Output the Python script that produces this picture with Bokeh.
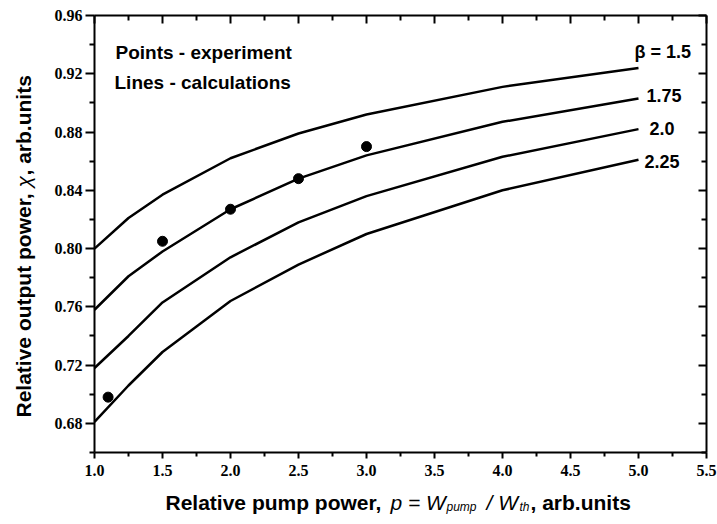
import math
from bokeh.plotting import figure
from bokeh.models import Range1d, LinearAxis, FixedTicker, NumeralTickFormatter, Label
from bokeh.embed import file_html
from bokeh.resources import INLINE

# ---------------- data ----------------
pump = [1.0, 1.25, 1.5, 2.0, 2.5, 3.0, 4.0, 5.0]
chi_beta_150 = [0.800, 0.821, 0.837, 0.862, 0.879, 0.892, 0.911, 0.924]
chi_beta_175 = [0.758, 0.781, 0.798, 0.827, 0.848, 0.864, 0.887, 0.903]
chi_beta_200 = [0.718, 0.740, 0.763, 0.794, 0.818, 0.836, 0.863, 0.882]
chi_beta_225 = [0.681, 0.706, 0.729, 0.764, 0.789, 0.810, 0.840, 0.861]
curve_names = ["β = 1.5", "1.75", "2.0", "2.25"]

exp_pump = [1.1, 1.5, 2.0, 2.5, 3.0]
exp_chi = [0.698, 0.805, 0.827, 0.848, 0.870]

x_major = [1.0, 1.5, 2.0, 2.5, 3.0, 3.5, 4.0, 4.5, 5.0, 5.5]
x_minor = [1.25, 1.75, 2.25, 2.75, 3.25, 3.75, 4.25, 4.75, 5.25]
y_major = [0.68, 0.72, 0.76, 0.80, 0.84, 0.88, 0.92, 0.96]
y_minor = [0.66, 0.70, 0.74, 0.78, 0.82, 0.86, 0.90, 0.94]

# ---------------- layout helpers ----------------
W, H = 717, 524
X0, X1, Y0, Y1 = 1.0, 5.5, 0.66, 0.96
FL, FR, FT, FB = 94, 706, 15, 452   # plot box edges in canvas px


def px2x(px):
    return X0 + (px - FL) * (X1 - X0) / (FR - FL)


def py2y(py):
    return Y1 - (py - FT) * (Y1 - Y0) / (FB - FT)


SANS = "Liberation Sans"
SERIF = "Liberation Serif"

p = figure(width=W, height=H,
           x_range=Range1d(px2x(0), px2x(W)), y_range=Range1d(py2y(H), py2y(0)),
           output_backend="svg", toolbar_location=None,
           min_border_left=0, min_border_right=0, min_border_top=0, min_border_bottom=0)
p.grid.visible = False
p.outline_line_color = None
p.background_fill_color = "white"
p.border_fill_color = "white"


def style_axis(ax, tin, tout, min_in, min_out, labels=True):
    ax.axis_line_width = 2
    ax.axis_line_color = "black"
    ax.major_tick_line_width = 2
    ax.minor_tick_line_width = 2
    ax.major_tick_line_color = "black"
    ax.minor_tick_line_color = "black"
    ax.major_tick_in = tin
    ax.major_tick_out = tout
    ax.minor_tick_in = min_in
    ax.minor_tick_out = min_out
    if labels:
        ax.major_label_text_font = SERIF
        ax.major_label_text_font_style = "bold"
        ax.major_label_text_font_size = "16px"
        ax.major_label_text_color = "black"
    else:
        ax.major_label_text_font_size = "0px"
        ax.major_label_standoff = 0
        ax.major_label_text_color = None
    ax.axis_label = None


xax = p.xaxis[0]
xax.ticker = FixedTicker(ticks=x_major, minor_ticks=x_minor)
xax.formatter = NumeralTickFormatter(format="0.0")
xax.fixed_location = Y0
xax.bounds = (X0, X1)
style_axis(xax, 0, 6, 0, 4)
xax.major_label_standoff = 6

yax = p.yaxis[0]
yax.ticker = FixedTicker(ticks=y_major, minor_ticks=y_minor)
yax.formatter = NumeralTickFormatter(format="0.00")
yax.fixed_location = X0
yax.bounds = (Y0, Y1)
style_axis(yax, 0, 9, 0, 5)
yax.major_label_standoff = 3

top = LinearAxis(ticker=FixedTicker(ticks=x_major, minor_ticks=x_minor),
                 fixed_location=Y1, bounds=(X0, X1))
style_axis(top, 8, 0, 5, 0, labels=False)
p.add_layout(top, "above")

right = LinearAxis(ticker=FixedTicker(ticks=y_major, minor_ticks=y_minor),
                   fixed_location=X1, bounds=(Y0, Y1))
style_axis(right, 8, 0, 5, 0, labels=False)
p.add_layout(right, "right")

# ---------------- curves and points ----------------
for chi in [chi_beta_150, chi_beta_175, chi_beta_200, chi_beta_225]:
    p.line(pump, chi, line_color="black", line_width=2.5)

p.scatter(exp_pump, exp_chi, size=10, fill_color="black", line_color="black")

# curve labels, anchored at the curve ends
label_y = [0.935, 0.905, 0.8826, 0.860]
label_dx = [-4, 8, 11, 6]
for name, ly, dx in zip(curve_names, label_y, label_dx):
    p.add_layout(Label(x=pump[-1], y=ly, x_offset=dx, text=name,
                       text_font=SANS, text_font_style="bold", text_font_size="18px",
                       text_baseline="middle", text_align="left", text_color="black"))

for txt, ly, dx in [("Points - experiment", 0.9346, 21), ("Lines - calculations", 0.9142, 20)]:
    p.add_layout(Label(x=X0, y=ly, x_offset=dx, text=txt,
                       text_font=SANS, text_font_style="bold", text_font_size="19px",
                       text_baseline="middle", text_align="left", text_color="black"))

# ---------------- x-axis title (with italic symbols and subscripts) ----------------
base = py2y(502)
sub = py2y(506)
x_title = [
    ("Relative pump power,", 165, base, "bold", "21px"),
    ("p = W", 390, base, "italic", "21px"),
    ("pump", 446, sub, "italic", "12px"),
    ("/ W", 486, base, "italic", "21px"),
    ("th", 519, sub, "italic", "12px"),
    (", arb.units", 530, base, "bold", "21px"),
]
for txt, px, yy, style, size in x_title:
    p.add_layout(Label(x=px2x(px), y=yy, text=txt, text_font=SANS,
                       text_font_style=style, text_font_size=size,
                       text_baseline="alphabetic", text_align="left", text_color="black"))

# ---------------- y-axis title (rotated) ----------------
y_title = [
    ("Relative output power,", 417, "bold"),
    ("χ", 187, "italic"),
    (", arb.units", 175, "bold"),
]
for txt, py, style in y_title:
    p.add_layout(Label(x=px2x(22.5), y=py2y(py), text=txt, angle=math.pi / 2,
                       text_font=SANS, text_font_style=style, text_font_size="21px",
                       text_baseline="middle", text_align="left", text_color="black"))

open("out.html", "w").write(file_html(p, INLINE))
